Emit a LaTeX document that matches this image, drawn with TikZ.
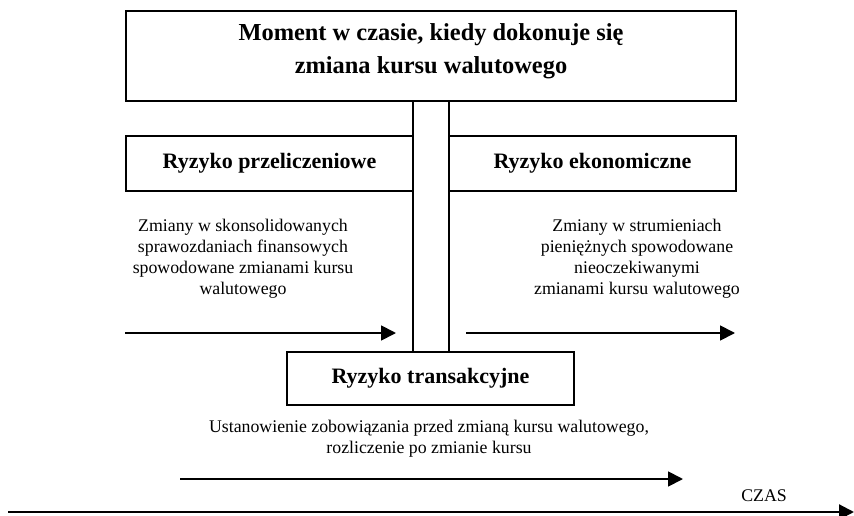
\documentclass[tikz,border=0pt]{standalone}
\usepackage{fontspec}
\setmainfont{Liberation Serif}
\usetikzlibrary{arrows.meta}
\begin{document}
\begin{tikzpicture}[x=1pt,y=-1pt,
  box/.style={draw, line width=1.4pt, inner sep=0pt},
  boxtitle/.style={font=\fontsize{22}{26}\selectfont\bfseries},
  bigtitle/.style={font=\fontsize{24.4}{33}\selectfont\bfseries, align=center, inner sep=0pt},
  body/.style={font=\fontsize{17.8}{21}\selectfont, align=center, inner sep=0pt},
  timearrow/.style={line width=1.8pt, -{Triangle[length=15pt,width=15pt]}}]
\useasboundingbox (0,0) rectangle (854,516);
% top box and bar
\node[box, minimum width=610pt, minimum height=90pt] (moment) at (431,56) {};
\node[bigtitle] (momenttext) at (431,51.5) {Moment w czasie, kiedy dokonuje się\\zmiana kursu walutowego};
\node[box, minimum width=36pt, minimum height=251pt] (bar) at (431,226.5) {};
% side boxes
\node[box, boxtitle, minimum width=287pt, minimum height=55pt] (przel) at (269.5,163.5) {Ryzyko przeliczeniowe};
\node[box, boxtitle, minimum width=287pt, minimum height=55pt] (ekon) at (592.5,163.5) {Ryzyko ekonomiczne};
\node[box, boxtitle, fill=white, minimum width=287pt, minimum height=53pt] (trans) at (430.5,378.5) {Ryzyko transakcyjne};
% descriptions
\node[body] (przeltext) at (243,258.4) {Zmiany w skonsolidowanych\\sprawozdaniach finansowych\\spowodowane zmianami kursu\\walutowego};
\node[body] (ekontext) at (637,258.4) {Zmiany w strumieniach\\pieniężnych spowodowane\\nieoczekiwanymi\\zmianami kursu walutowego};
\node[body] (transtext) at (429,438.5) {Ustanowienie zobowiązania przed zmianą kursu walutowego,\\rozliczenie po zmianie kursu};
\node[body] (czas) at (764,496) {CZAS};
% arrows
\coordinate (la1) at (125,333);
\coordinate (la2) at (396,333);
\coordinate (ra1) at (466,333);
\coordinate (ra2) at (735,333);
\coordinate (ma1) at (180,479);
\coordinate (ma2) at (683,479);
\coordinate (ax1) at (8,512);
\coordinate (ax2) at (854,512);
\draw[timearrow] (la1) -- (la2);
\draw[timearrow] (ra1) -- (ra2);
\draw[timearrow] (ma1) -- (ma2);
\draw[timearrow, line width=2.2pt] (ax1) -- (ax2);
\end{tikzpicture}
\end{document}
